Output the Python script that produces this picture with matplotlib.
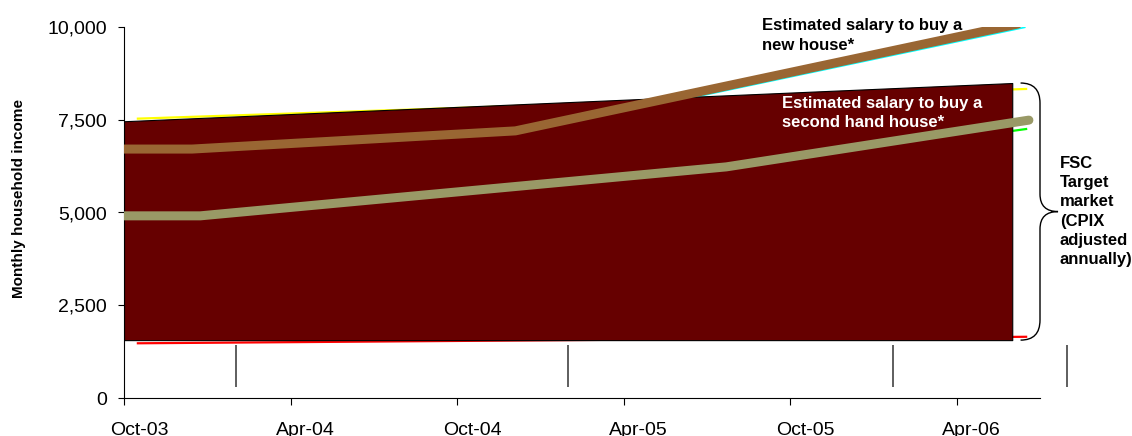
import numpy as np
import matplotlib.pyplot as plt
from matplotlib.path import Path
from matplotlib.patches import PathPatch
from matplotlib.transforms import ScaledTranslation

plt.rcParams['font.family'] = ['Liberation Sans', 'DejaVu Sans']

# x values are months since Oct-03
tick_months = [0, 6, 12, 18, 24, 30]
tick_labels = ['Oct-03', 'Apr-04', 'Oct-04', 'Apr-05', 'Oct-05', 'Apr-06']

# estimated salaries (thick lines)
new_house_x = [0, 2.45, 14.1, 32.2]
new_house = [6710, 6710, 7200, 10080]
second_hand_x = [0, 2.75, 21.7, 32.6]
second_hand = [4910, 4910, 6230, 7490]

# thin series sitting behind the target band
new_thin_x = [0.5, 2.6, 14.1, 32.45]
new_thin = [6650, 6650, 7090, 9990]
second_thin_x = [0.5, 2.9, 21.8, 32.5]
second_thin = [4850, 4850, 6150, 7250]
cpix_x = [0.5, 32.5]
cpix_low = [1475, 1650]
cpix_high = [7530, 8330]

# FSC target market band
band_x = [0, 32.0]
band_low = [1560, 1560]
band_high = [7460, 8490]

# short vertical lines under the band
drop_x = [4.03, 16.0, 27.7, 33.97]
drop_low = 300
drop_high = 1430

fig = plt.figure(figsize=(11.32, 4.36), dpi=100)
ax = fig.add_axes([124/1132, 38/436, 916/1132, 371/436])

# thin lines first, band hides most of them
ax.plot(cpix_x, cpix_low, color='#ff0000', lw=1.6, zorder=1)
ax.plot(cpix_x, cpix_high, color='#ffff00', lw=1.6, zorder=1)
ax.plot(second_thin_x, second_thin, color='#00ff00', lw=1.6, zorder=1)
ax.plot(new_thin_x, new_thin, color='#00ffff', lw=1.2, zorder=1)

ax.fill_between(band_x, band_low, band_high, facecolor='#660000',
                edgecolor='black', lw=0.8, zorder=2)

ax.plot(new_house_x, new_house, color='#996633', lw=6.5,
        solid_capstyle='round', solid_joinstyle='round', zorder=3)
ax.plot(second_hand_x, second_hand, color='#999966', lw=6.5,
        solid_capstyle='round', solid_joinstyle='round', zorder=3)

ax.vlines(drop_x, drop_low, drop_high, color='#333333', lw=1.1,
          clip_on=False, zorder=2)

# brace for the target market
bx0 = band_x[-1] + 0.3
bx1 = band_x[-1] + 1.0
tipx = band_x[-1] + 1.65
top = band_high[-1]
bot = band_low[-1]
mid = (top + bot) / 2
r = 540
verts = [(bx0, top), (bx1, top), (bx1, top - r),
         (bx1, mid + 470), (bx1, mid), (tipx, mid),
         (bx1, mid), (bx1, mid - 470),
         (bx1, bot + r), (bx1, bot), (bx0, bot)]
codes = [Path.MOVETO, Path.CURVE3, Path.CURVE3,
         Path.LINETO, Path.CURVE3, Path.CURVE3,
         Path.CURVE3, Path.CURVE3,
         Path.LINETO, Path.CURVE3, Path.CURVE3]
ax.add_patch(PathPatch(Path(verts, codes), facecolor='none',
                       edgecolor='black', lw=1.0, clip_on=False, zorder=4))

ax.text(tipx + 0.07, mid, 'FSC\nTarget\nmarket\n(CPIX\nadjusted\nannually)',
        fontsize=12, fontweight='bold', ha='left', va='center',
        linespacing=1.35)
ax.text(22.98, 9771, 'Estimated salary to buy a\nnew house*', fontsize=12,
        fontweight='bold', ha='left', va='center', linespacing=1.35, zorder=5)
ax.text(23.7, 7682, 'Estimated salary to buy a\nsecond hand house*',
        fontsize=12, fontweight='bold', color='white', ha='left',
        va='center', linespacing=1.35, zorder=5)

ax.set_xlim(0, 33)
ax.set_ylim(0, 10000)
ax.set_yticks([0, 2500, 5000, 7500, 10000])
ax.set_yticklabels(['0', '2,500', '5,000', '7,500', '10,000'])
ax.set_xticks(tick_months)
ax.set_xticklabels(tick_labels)
ax.tick_params(axis='y', labelsize=14, length=4.3, width=0.8, pad=8)
ax.tick_params(axis='x', labelsize=14, length=5, width=0.8, pad=12)
offset = ScaledTranslation(15/100, 0, fig.dpi_scale_trans)
for lab in ax.get_xticklabels():
    lab.set_transform(lab.get_transform() + offset)

for side in ['top', 'right']:
    ax.spines[side].set_visible(False)
ax.spines['left'].set_linewidth(0.8)
ax.spines['bottom'].set_linewidth(0.8)

ax.set_ylabel('Monthly household income', fontsize=11, fontweight='bold')
ax.yaxis.set_label_coords(-0.107, 0.538)

fig.savefig('out.png', dpi=100)
